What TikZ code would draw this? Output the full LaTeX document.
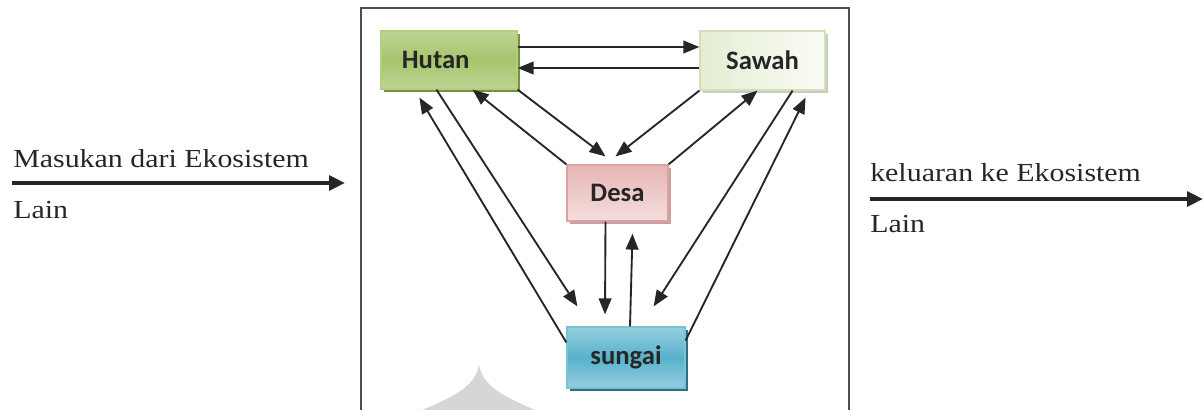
\documentclass[tikz,border=0pt]{standalone}
\usepackage{fontspec}
\setmainfont{Liberation Serif}
\newfontfamily\kotakfont{Carlito}
\newfontfamily\ketfont[FakeStretch=1.15]{Liberation Serif}
\usetikzlibrary{calc,arrows.meta,shadows}

\definecolor{hutanA}{RGB}{190,212,148}
\definecolor{hutanB}{RGB}{166,197,108}
\definecolor{hutanE}{RGB}{180,206,130}
\definecolor{hutanS}{RGB}{118,146,60}
\definecolor{sawahA}{RGB}{228,237,210}
\definecolor{sawahB}{RGB}{250,252,246}
\definecolor{sawahE}{RGB}{210,225,185}
\definecolor{sawahS}{RGB}{200,205,190}
\definecolor{desaA}{RGB}{230,182,181}
\definecolor{desaB}{RGB}{244,222,221}
\definecolor{desaE}{RGB}{222,160,160}
\definecolor{desaS}{RGB}{200,160,160}
\definecolor{sungaiA}{RGB}{150,206,222}
\definecolor{sungaiB}{RGB}{88,178,204}
\definecolor{sungaiE}{RGB}{120,195,215}
\definecolor{sungaiS}{RGB}{49,110,130}

\tikzset{
  kotak/.style={rectangle, inner sep=0pt, line width=0.9pt,
    font=\kotakfont\bfseries\fontsize{20}{24}\selectfont, text=black!85},
  hutanbox/.style={kotak, draw=hutanE, top color=hutanA, bottom color=hutanA, middle color=hutanB,
    drop shadow={shadow xshift=2.2pt, shadow yshift=-2.2pt, fill=hutanS, opacity=1},
    minimum width=102pt, minimum height=43.5pt},
  sawahbox/.style={kotak, draw=sawahE, left color=sawahA, right color=sawahB,
    drop shadow={shadow xshift=2.2pt, shadow yshift=-2.2pt, fill=sawahS, opacity=1},
    minimum width=93.75pt, minimum height=44.25pt},
  desabox/.style={kotak, draw=desaE, top color=desaA, bottom color=desaB,
    drop shadow={shadow xshift=2.2pt, shadow yshift=-2.2pt, fill=desaS, opacity=1},
    minimum width=75.75pt, minimum height=42pt},
  sungaibox/.style={kotak, draw=sungaiE, top color=sungaiA, bottom color=sungaiA, middle color=sungaiB,
    drop shadow={shadow xshift=2.2pt, shadow yshift=-2.2pt, fill=sungaiS, opacity=1},
    minimum width=88.5pt, minimum height=45.75pt},
  panah/.style={-{Triangle[length=12pt,width=9.5pt]}, line width=1.4pt, draw=black!85},
  aliran/.style={-{Triangle[length=12pt,width=11pt]}, line width=3.2pt, draw=black!85},
  ket/.style={inner sep=0pt, font=\ketfont\fontsize{19.5}{22}\selectfont, text=black!85},
  bingkai/.style={line width=1.3pt, draw=black!70}
}

\begin{document}
\begin{tikzpicture}[x=0.75pt,y=-0.75pt]
  \useasboundingbox (0,0) rectangle (1204,410);
  % bayangan abu-abu di bawah
  \fill[black!16] (422,410) .. controls (455,396) and (476,386) .. (479,364)
    .. controls (482,386) and (503,396) .. (535,410) -- cycle;
  \draw[bingkai] (361,410) -- (361,8) -- (849,8) -- (849,410);

  % ekosistem
  \node[hutanbox] (hutan) at (449,60) {Hutan\kern20pt};
  \node[sawahbox] (sawah) at (762.5,60.5) {Sawah};
  \node[desabox] (desa) at (617.5,193) {Desa};
  \node[sungaibox] (sungai) at (626,357.5) {sungai};

  % hutan - sawah
  \draw[panah] ($(hutan.east)+(0,-13)$) -- ($(sawah.west)+(0,-13.5)$);
  \draw[panah] ($(sawah.west)+(0,7.5)$) -- ($(hutan.east)+(0,8)$);
  % hutan - desa
  \draw[panah] (hutan.south east) -- ($(desa.north)+(-12,-8)$);
  \draw[panah] (desa.north west) -- ($(hutan.south east)+(-45,0)$);
  % sawah - desa
  \draw[panah] (sawah.south west) -- ($(desa.north)+(-2,-8)$);
  \draw[panah] (desa.north east) -- ($(sawah.south)+(-5,0)$);
  % hutan - sungai
  \draw[panah] ($(hutan.south west)+(56,0)$) -- ($(sungai.north west)+(11,-20)$);
  \draw[panah] ($(sungai.west)+(0,-15)$) -- ($(hutan.south west)+(39,8)$);
  % desa - sungai
  \draw[panah] ($(desa.south)+(-12,0)$) -- ($(sungai.north)+(-21,-12)$);
  \draw[panah] ($(sungai.north)+(4,0)$) -- ($(desa.south)+(15,12)$);
  % sawah - sungai
  \draw[panah] ($(sawah.south east)+(-33,0)$) -- ($(sungai.north east)+(-32,-20)$);
  \draw[panah] ($(sungai.east)+(0,-17)$) -- ($(sawah.south east)+(-20,7)$);

  % masukan
  \node[ket, anchor=base west] (masukan) at (13,167) {Masukan dari Ekosistem};
  \node[ket, anchor=base west] (lainA) at (13,218) {Lain};
  \coordinate (masukA) at (12,183);
  \coordinate (masukB) at (345,183);
  \draw[aliran] (masukA) -- (masukB);

  % keluaran
  \node[ket, anchor=base west] (keluaran) at (870,181) {keluaran ke Ekosistem};
  \node[ket, anchor=base west] (lainB) at (870,232) {Lain};
  \coordinate (keluarA) at (870,199);
  \coordinate (keluarB) at (1203,199);
  \draw[aliran] (keluarA) -- (keluarB);
\end{tikzpicture}
\end{document}
